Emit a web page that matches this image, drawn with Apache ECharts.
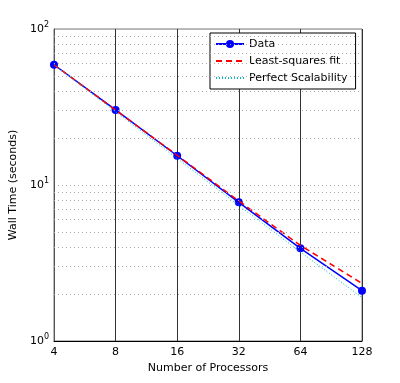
<!DOCTYPE html>
<html><head><meta charset="utf-8">
<script src="https://cdn.jsdelivr.net/npm/echarts@6/dist/echarts.min.js"></script>
<style>html,body{margin:0;padding:0;background:#fff}#c{width:400px;height:383px}</style>
</head><body><div id="c"></div>
<script>
var procs = [4, 8, 16, 32, 64, 128];
var wallTime = [59, 30.3, 15.4, 7.74, 3.93, 2.10];
var fitTime = [59, 30.2, 15.5, 7.9, 4.1, 2.34];
var perfectTime = [59, 29.5, 14.8, 7.4, 3.72, 1.9];
var minorGridY = [2, 3, 4, 5, 6, 7, 8, 9, 20, 30, 40, 50, 60, 70, 80, 90];
var seriesNames = ['Data', 'Least-squares fit', 'Perfect Scalability'];

function pairs(ys) { return procs.map(function (p, i) { return [p, ys[i]]; }); }
var font = 'DejaVu Sans, sans-serif';

var chart = echarts.init(document.getElementById('c'), null, { renderer: 'canvas' });
chart.setOption({
  animation: false,
  backgroundColor: '#fff',
  grid: { left: 52, right: 38, top: 29, bottom: 42, show: true, borderColor: '#777', borderWidth: 1, backgroundColor: 'transparent' },
  legend: {
    left: 210, top: 33, orient: 'vertical',
    data: seriesNames,
    backgroundColor: '#fff', borderColor: '#000', borderWidth: 1,
    padding: [4, 8, 4, 5], itemGap: 3, itemWidth: 28, itemHeight: 10,
    textStyle: { fontFamily: font, fontSize: 11, color: '#000', lineHeight: 14 }
  },
  xAxis: {
    type: 'log', logBase: 2, min: 4, max: 128,
    name: 'Number of Processors', nameLocation: 'middle', nameGap: 22,
    nameTextStyle: { fontFamily: font, fontSize: 11, color: '#000' },
    axisLine: { show: true, lineStyle: { color: '#000', width: 1 } },
    axisTick: { show: false },
    axisLabel: { fontFamily: font, fontSize: 11, color: '#000', margin: 6, showMinLabel: true, showMaxLabel: true },
    splitLine: { show: true, lineStyle: { color: '#333', width: 1, type: 'solid' } },
    minorTick: { show: false }
  },
  yAxis: {
    type: 'log', logBase: 10, min: 1, max: 100,
    name: 'Wall Time (seconds)', nameLocation: 'middle', nameGap: 25,
    nameTextStyle: { fontFamily: font, fontSize: 11, color: '#000' },
    axisLine: { show: true, lineStyle: { color: '#555', width: 1 } },
    axisTick: { show: false },
    axisLabel: {
      margin: 5,
      formatter: function (v) { return '10{sup|' + Math.round(Math.log10(v)) + '}'; },
      rich: { sup: { fontSize: 8, fontFamily: font, color: '#000', verticalAlign: 'bottom', padding: [0, 0, 8, 0] } },
      fontFamily: font, fontSize: 11, color: '#000'
    },
    splitLine: { show: true, lineStyle: { color: '#aaa', width: 1, type: [1, 3] } }
  },
  series: [
    {
      name: seriesNames[0], type: 'line', data: pairs(wallTime),
      symbol: 'circle', symbolSize: 8, itemStyle: { color: '#0000ff' },
      lineStyle: { color: '#0000ff', width: 1.5 },
      markLine: {
        silent: true, symbol: 'none', label: { show: false },
        lineStyle: { color: '#aaa', width: 1, type: [1, 3] },
        data: minorGridY.map(function (v) { return { yAxis: v }; })
      },
      z: 3
    },
    {
      name: seriesNames[1], type: 'line', data: pairs(fitTime), symbol: 'none',
      itemStyle: { color: '#ff0000', opacity: 0 },
      lineStyle: { color: '#ff0000', width: 1.5, type: [6, 4], opacity: 1 }, z: 4
    },
    {
      name: seriesNames[2], type: 'line', data: pairs(perfectTime), symbol: 'none',
      itemStyle: { color: '#00bfbf', opacity: 0 },
      lineStyle: { color: '#00bfbf', width: 1, type: [1, 2], opacity: 1 }, z: 5
    }
  ]
});
</script></body></html>
